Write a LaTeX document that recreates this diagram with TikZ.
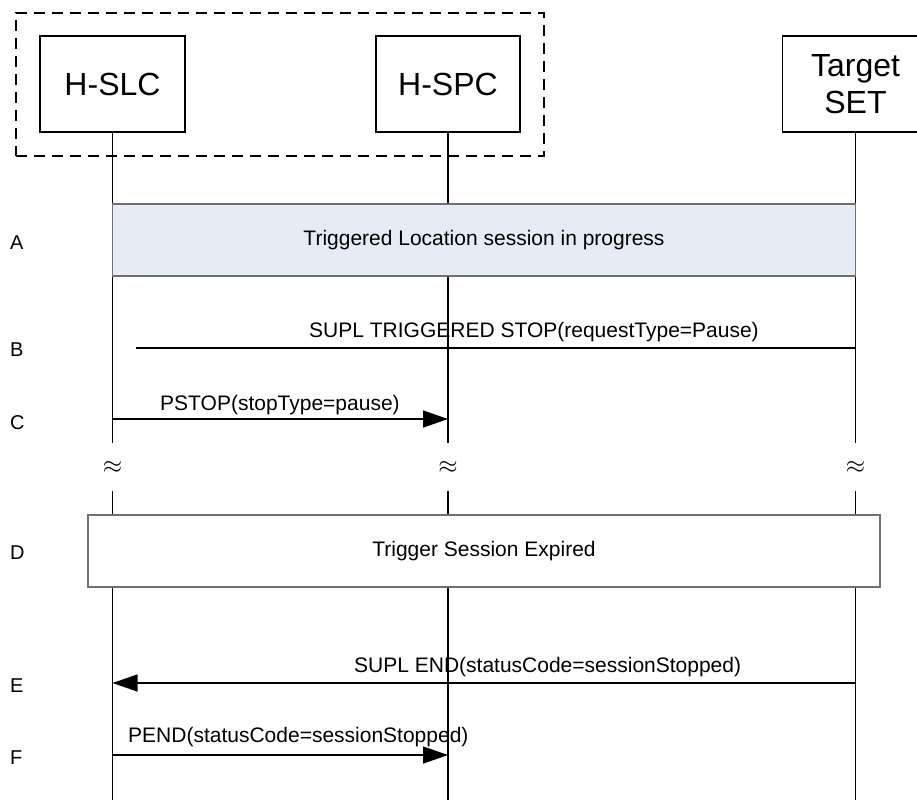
\documentclass[tikz,border=0pt]{standalone}
\usepackage{fontspec}
\setmainfont{Liberation Sans}
\usetikzlibrary{arrows.meta}
\definecolor{abox}{HTML}{E6ECF6}
\definecolor{bordergray}{HTML}{707070}
\begin{document}
\begin{tikzpicture}[x=1pt,y=-1pt,
  entity/.style={draw,line width=1.2pt,minimum height=96pt,inner sep=0pt,align=center,font=\fontsize{32}{37}\selectfont},
  life/.style={line width=1.6pt},
  msgtext/.style={inner sep=0pt,anchor=west,font=\fontsize{21}{25}\selectfont},
  steplabel/.style={inner sep=0pt,anchor=west,font=\fontsize{20}{24}\selectfont},
  msg/.style={line width=1.4pt,-{Triangle[length=25pt,width=17pt]}},
  band/.style={draw=bordergray,line width=1.2pt,inner sep=0pt,font=\fontsize{21}{25}\selectfont},
  brk/.style={inner sep=0pt,font=\fontsize{24}{28}\selectfont}]
\useasboundingbox (0,0) rectangle (917,800);
% group box
\node[draw,dashed,dash pattern=on 11pt off 7pt,line width=1.3pt,minimum width=528pt,minimum height=143pt,inner sep=0pt] (grp) at (280,84.5) {};
% entities
\node[entity,minimum width=145pt] (slc) at (112.5,84) {H-SLC};
\node[entity,minimum width=144pt] (spc) at (448,84) {H-SPC};
\node[entity,minimum width=146pt] (set) at (855.5,84) {Target\\SET};
% break coordinates
\coordinate (brkTop) at (0,443);
\coordinate (brkBot) at (0,491);
\coordinate (endY) at (0,800);
% lifelines
\foreach \e in {slc,spc,set}{
  \draw[life] (\e.south) -- (\e.south |- brkTop);
  \draw[life] (\e.south |- brkBot) -- (\e.south |- endY);
}
% breaks
\node[brk] (bslc) at (112.5,467) {$\approx$};
\node[brk] (bspc) at (448,467) {$\approx$};
\node[brk] (bset) at (855.5,467) {$\approx$};
% A
\node[band,fill=abox,minimum width=743pt,minimum height=72pt] (boxA) at (484,240) {Triggered Location session in progress};
% D
\node[band,fill=white,minimum width=792pt,minimum height=72pt] (boxD) at (484,551) {Trigger Session Expired};
% step labels
\node[steplabel] (lA) at (10,243) {A};
\node[steplabel] (lB) at (10,350) {B};
\node[steplabel] (lC) at (10,423) {C};
\node[steplabel] (lD) at (10,553) {D};
\node[steplabel] (lE) at (10,686) {E};
\node[steplabel] (lF) at (10,758) {F};
% B
\coordinate (bEnd) at (136,348);
\draw[line width=1.4pt] (set.south |- bEnd) -- (bEnd);
\node[msgtext] (tB) at (309,332) {SUPL TRIGGERED STOP(requestType=Pause)};
% C
\coordinate (yC) at (0,419);
\draw[msg] (slc.south |- yC) -- (spc.south |- yC);
\node[msgtext] (tC) at (160,405) {PSTOP(stopType=pause)};
% E
\coordinate (yE) at (0,683);
\draw[msg] (set.south |- yE) -- (slc.south |- yE);
\node[msgtext] (tE) at (354,667) {SUPL END(statusCode=sessionStopped)};
% F
\coordinate (yF) at (0,755);
\draw[msg] (slc.south |- yF) -- (spc.south |- yF);
\node[msgtext] (tF) at (128,737) {PEND(statusCode=sessionStopped)};
\end{tikzpicture}
\end{document}
